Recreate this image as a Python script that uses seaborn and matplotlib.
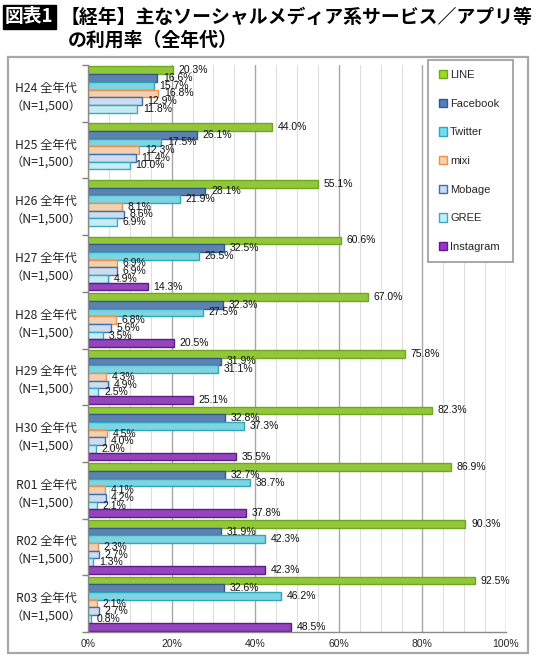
import numpy as np
import pandas as pd
import matplotlib
matplotlib.use("Agg")
import matplotlib.pyplot as plt
import seaborn as sns
from matplotlib.patches import Rectangle
from matplotlib.ticker import MultipleLocator, FixedLocator

# ---- data ----
years = ["H24", "H25", "H26", "H27", "H28", "H29", "H30", "R01", "R02", "R03"]
services = ["LINE", "Facebook", "Twitter", "mixi", "Mobage", "GREE", "Instagram"]
line = [20.3, 44.0, 55.1, 60.6, 67.0, 75.8, 82.3, 86.9, 90.3, 92.5]
facebook = [16.6, 26.1, 28.1, 32.5, 32.3, 31.9, 32.8, 32.7, 31.9, 32.6]
twitter = [15.7, 17.5, 21.9, 26.5, 27.5, 31.1, 37.3, 38.7, 42.3, 46.2]
mixi = [16.8, 12.3, 8.1, 6.9, 6.8, 4.3, 4.5, 4.1, 2.3, 2.1]
mobage = [12.9, 11.4, 8.6, 6.9, 5.6, 4.9, 4.0, 4.2, 2.7, 2.7]
gree = [11.8, 10.0, 6.9, 4.9, 3.5, 2.5, 2.0, 2.1, 1.3, 0.8]
instagram = [np.nan, np.nan, np.nan, 14.3, 20.5, 25.1, 35.5, 37.8, 42.3, 48.5]
xticks = [0, 20, 40, 60, 80, 100]
title1 = "【経年】主なソーシャルメディア系サービス／アプリ等"
title2 = "の利用率（全年代）"
badge = "図表1"

series = [line, facebook, twitter, mixi, mobage, gree, instagram]
rows = []
for s, vals in zip(services, series):
    for y, v in zip(years, vals):
        rows.append({"year": y, "service": s, "rate": v})
df = pd.DataFrame(rows).dropna()

fills = ["#99dd22", "#4f81bd", "#6fe0f0", "#fcd0a8", "#c9dcf3", "#bff0f8", "#9b30d0"]
edges = ["#6ca820", "#2f5a92", "#2aa8c0", "#e8924c", "#3d6fb0", "#3aa8c8", "#5e1c88"]

sns.set_style("white")
plt.rcParams["font.family"] = ["Liberation Sans", "Noto Sans CJK JP"]

fig = plt.figure(figsize=(5.4, 6.6), dpi=100)
ax = fig.add_axes([88 / 540, 1 - 632 / 660, (506 - 88) / 540, (632 - 65) / 660])

sns.barplot(data=df, x="rate", y="year", hue="service", hue_order=services,
            order=years, orient="h", width=0.95, palette=fills,
            errorbar=None, legend=False, linewidth=1.0, ax=ax)

for cont, ec in zip(ax.containers, edges):
    for b in cont:
        b.set_edgecolor(ec)
    ax.bar_label(cont, fmt="%.1f%%", padding=4, fontsize=7.5, color="#111111")

ax.set_xlim(0, 100)
ax.set_ylim(9.5, -0.5)
ax.set_xlabel("")
ax.set_ylabel("")

ax.xaxis.set_major_locator(FixedLocator(xticks))
ax.set_xticklabels([f"{t}%" for t in xticks], fontsize=7.5)
ax.xaxis.set_minor_locator(MultipleLocator(5))
ax.tick_params(axis="x", which="both", length=0, pad=5)
ax.grid(True, axis="x", which="major", color="#a6a6a6", lw=1.0)
ax.grid(True, axis="x", which="minor", color="#dedede", lw=0.8)
ax.set_axisbelow(True)

ax.set_yticks(range(len(years)))
ax.set_yticklabels([f"{y} 全年代\n（N=1,500）" for y in years],
                   fontsize=8.8, family=["Noto Sans CJK JP"])
plt.setp(ax.get_yticklabels(), ha="center", multialignment="center", linespacing=1.45)
ax.yaxis.set_minor_locator(FixedLocator(np.arange(-0.5, 10, 1)))
ax.tick_params(axis="y", which="major", length=0, pad=30)
ax.tick_params(axis="y", which="minor", length=4, color="#808080", width=1, left=True)

for s in ["top", "right"]:
    ax.spines[s].set_visible(False)
for s in ["left", "bottom"]:
    ax.spines[s].set_color("#8a8a8a")
    ax.spines[s].set_linewidth(1.0)

# outer frame
fig.patches.append(Rectangle((8 / 540, 1 - 653 / 660), 520 / 540, 596 / 660,
                             transform=fig.transFigure, fill=False,
                             edgecolor="#a8a8a8", lw=1.6, zorder=0))
# legend box
fig.patches.append(Rectangle((428 / 540, 1 - 262 / 660), 85 / 540, 202 / 660,
                             transform=fig.transFigure, facecolor="white",
                             edgecolor="#999999", lw=1.2, zorder=3))
handles = [Rectangle((0, 0), 1, 1, facecolor=f, edgecolor=e, lw=1) for f, e in zip(fills, edges)]
fig.legend(handles, services, loc="upper left", bbox_to_anchor=(439 / 540, 1 - 70 / 660),
           frameon=False, fontsize=8, handlelength=0.75, handleheight=0.75,
           handletextpad=0.25, labelspacing=1.68, borderpad=0, borderaxespad=0)

# title
fig.text(5 / 540, 1 - 17 / 660, badge, color="white", fontsize=13.5, weight="bold",
         va="center", ha="left", family=["Noto Sans CJK JP"],
         bbox=dict(facecolor="black", edgecolor="black", pad=1.8))
fig.text(61 / 540, 1 - 17 / 660, title1, color="black", fontsize=13.6, weight="bold",
         va="center", ha="left", family=["Noto Sans CJK JP"])
fig.text(68 / 540, 1 - 40 / 660, title2, color="black", fontsize=13.6, weight="bold",
         va="center", ha="left", family=["Noto Sans CJK JP"])

fig.savefig("out.png", dpi=100)
